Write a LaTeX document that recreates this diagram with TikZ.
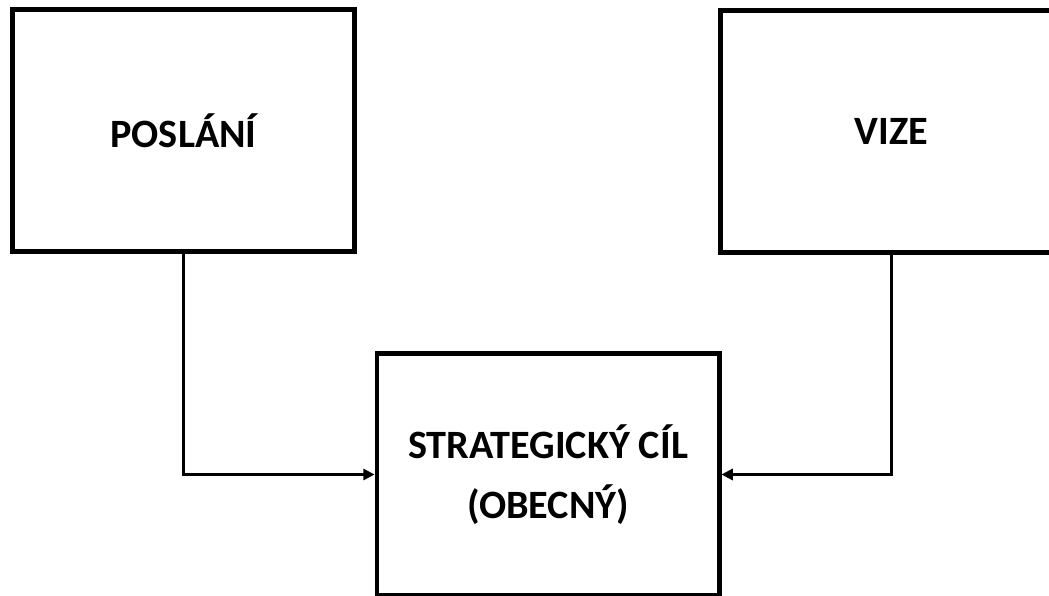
\documentclass[tikz,border=0pt]{standalone}
\usepackage{fontspec}
\setmainfont{Carlito}
\usetikzlibrary{arrows.meta}

\begin{document}
\begin{tikzpicture}[x=0.025cm, y=-0.025cm,
  box/.style={draw, line width=3.5pt, minimum width=8.55cm, minimum height=6.05cm,
    align=center, font=\fontsize{28.6}{43}\selectfont\bfseries},
  link/.style={line width=1.6pt, -{Triangle[length=8pt, width=8pt]}}]
  % Page frame (right and bottom boxes run off the edge)
  \useasboundingbox (0,0) rectangle (1049,596);
  % Boxes
  \node[box] (poslani) at (183.5,130.75) {POSLÁNÍ};
  \node[box] (vize) at (891.5,131.75) {VIZE};
  \node[box] (cil) at (548,474.5) {STRATEGICKÝ CÍL\\(OBECNÝ)};
  % Links into the goal
  \draw[link] (poslani.south) |- (cil.west);
  \draw[link] (vize.south) |- (cil.east);
\end{tikzpicture}
\end{document}
